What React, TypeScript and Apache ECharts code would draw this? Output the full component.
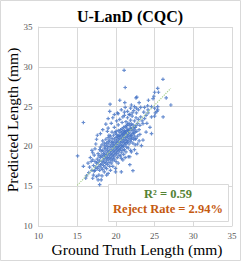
import { useEffect, useRef } from "react";
import * as echarts from "echarts";

const chartTitle = "U-LanD (CQC)";
const xAxisTitle = "Ground Truth Length (mm)";
const yAxisTitle = "Predicted Length (mm)";
const axisMin = 10;
const axisMax = 35;
const axisStep = 5;
const r2Label = "R² = 0.59";
const rejectLabel = "Reject Rate = 2.94%";

// [ground truth length, predicted length] in mm
const sparsePoints: [number, number][] = [
  [21.06, 29.56], [26.08, 28.43], [21.2, 27.4], [25.4, 27.3], [25.5, 26.8], [25.0, 26.8], [24.9, 26.3],
  [26.5, 26.1], [22.7, 26.2], [22.6, 26.1], [20.5, 25.8], [24.8, 26.0], [24.2, 25.8], [21.15, 25.5],
  [27.1, 25.2], [19.25, 25.3], [22.0, 25.2], [22.4, 25.0], [23.0, 25.5], [23.2, 24.9], [23.7, 24.9],
  [24.1, 25.1], [24.6, 25.0], [25.4, 25.0], [21.2, 24.9], [21.9, 24.8], [22.65, 24.8], [22.9, 24.6],
  [24.15, 24.6], [25.0, 24.8], [25.4, 24.6], [20.2, 24.2], [21.7, 24.0], [22.1, 24.2], [22.65, 24.2],
  [23.6, 24.3], [24.15, 24.2], [25.1, 24.2], [25.3, 24.4], [15.8, 23.0], [19.0, 22.3], [20.3, 24.1],
  [21.1, 23.9], [21.8, 24.0], [23.9, 23.9], [24.6, 23.7], [25.0, 23.8], [26.1, 23.7], [23.1, 22.65],
  [23.5, 22.85], [24.4, 22.4], [23.9, 21.8], [24.6, 21.6], [23.5, 20.8], [23.3, 20.1], [15.05, 18.8],
  [15.8, 17.5], [16.4, 17.9], [16.8, 18.1], [17.3, 17.0], [17.1, 16.4], [17.5, 16.2], [17.8, 16.4],
  [17.9, 15.2], [17.7, 15.8], [18.1, 15.8], [18.8, 16.4], [19.0, 16.6], [19.95, 17.25], [19.95, 16.8],
  [20.7, 16.8], [21.8, 17.7], [22.2, 16.95], [21.6, 18.7], [21.8, 18.7], [20.7, 18.5],
];

const upperCorePoints: [number, number][] = [
  [18.7, 22.8], [20.1, 23.2], [19.0, 23.5], [19.4, 22.9], [19.6, 23.6], [19.8, 22.4], [20.0, 21.9],
  [20.3, 22.7], [20.5, 23.4], [20.6, 22.1], [20.8, 23.0], [20.9, 23.7], [21.0, 22.4], [21.2, 21.8],
  [21.3, 23.1], [21.4, 22.6], [21.5, 23.6], [21.6, 22.0], [21.7, 22.9], [21.9, 23.3], [22.0, 22.2],
  [22.1, 23.8], [22.2, 22.7], [22.3, 21.7], [22.4, 23.2], [22.5, 22.4], [22.6, 23.6], [22.7, 21.9],
  [22.8, 22.9], [22.9, 23.4], [23.0, 22.1], [23.2, 23.7], [22.3, 24.5], [21.5, 24.4], [20.7, 24.6],
  [19.8, 24.0], [19.2, 24.4], [23.4, 23.2], [22.8, 21.3], [21.9, 21.4], [20.9, 21.5], [19.5, 21.8],
  [19.1, 21.4], [18.9, 21.9], [20.4, 21.3], [23.7, 23.5], [24.0, 22.9], [22.5, 20.9], [23.1, 21.5],
  [21.1, 24.3],
];

const corePoints: [number, number][] = [
  [17.5, 17.9], [17.6, 18.4], [17.6, 17.2], [17.7, 19.1], [17.7, 18.0], [17.8, 17.5], [17.8, 18.8],
  [17.9, 19.6], [17.9, 18.2], [17.9, 17.0], [18.0, 18.6], [18.0, 19.9], [18.0, 17.7],
  [18.1, 18.9], [18.1, 17.3], [18.1, 19.4], [18.2, 18.1], [18.2, 20.2], [18.2, 17.8], [18.3, 18.7],
  [18.3, 19.5], [18.3, 17.1], [18.3, 20.7], [18.4, 18.3], [18.4, 19.1], [18.4, 17.6], [18.5, 18.9],
  [18.5, 19.8], [18.5, 18.0], [18.5, 20.4],
  [18.6, 18.5], [18.6, 19.3], [18.6, 17.4], [18.6, 20.1], [18.7, 18.8], [18.7, 19.7], [18.7, 17.9],
  [18.7, 20.9], [18.8, 18.2], [18.8, 19.0], [18.8, 20.4], [18.8, 17.2], [18.9, 18.6], [18.9, 19.5],
  [18.9, 20.0], [18.9, 17.7], [19.0, 19.2], [19.0, 18.4], [19.0, 20.6], [19.0, 21.1],
  [19.1, 18.9], [19.1, 19.8], [19.1, 18.0], [19.1, 20.3], [19.2, 19.4], [19.2, 18.6], [19.2, 20.8],
  [19.2, 17.5], [19.3, 19.1], [19.3, 20.0], [19.3, 18.3], [19.3, 21.3], [19.4, 19.6], [19.4, 18.8],
  [19.4, 20.5], [19.4, 17.9], [19.5, 19.3], [19.5, 20.2], [19.5, 18.5], [19.5, 21.0],
  [19.6, 19.9], [19.6, 19.0], [19.6, 20.6], [19.6, 18.2], [19.7, 19.5], [19.7, 20.3], [19.7, 18.7],
  [19.7, 21.4], [19.8, 19.2], [19.8, 20.0], [19.8, 18.4], [19.8, 20.9], [19.9, 19.7], [19.9, 20.5],
  [19.9, 18.9], [19.9, 21.7], [20.0, 19.4], [20.0, 20.2], [20.0, 18.1], [20.0, 21.1],
  [20.1, 19.9], [20.1, 20.7], [20.1, 19.1], [20.1, 21.5], [20.2, 20.4], [20.2, 19.6], [20.2, 18.6],
  [20.2, 21.2], [20.3, 20.0], [20.3, 20.9], [20.3, 19.3], [20.3, 22.0], [20.4, 20.6], [20.4, 19.8],
  [20.4, 18.9], [20.4, 21.4], [20.5, 20.2], [20.5, 21.0], [20.5, 19.5], [20.5, 21.8],
  [20.6, 20.5], [20.6, 21.3], [20.6, 19.7], [20.6, 18.8], [20.7, 20.9], [20.7, 20.1], [20.7, 21.7],
  [20.7, 19.2], [20.8, 20.6], [20.8, 21.4], [20.8, 19.9], [20.8, 22.2], [20.9, 20.3], [20.9, 21.1],
  [20.9, 19.5], [20.9, 21.9], [21.0, 20.8], [21.0, 21.6], [21.0, 20.0], [21.0, 19.0],
  [21.1, 20.5], [21.1, 21.3], [21.1, 22.0], [21.1, 19.6], [21.2, 20.9], [21.2, 21.7], [21.2, 20.2],
  [21.2, 22.5], [21.3, 21.1], [21.3, 20.4], [21.3, 21.9], [21.3, 19.3], [21.4, 20.7], [21.4, 21.5],
  [21.4, 22.3], [21.4, 19.9], [21.5, 21.2], [21.5, 20.5], [21.5, 22.0], [21.5, 22.8],
  [21.6, 20.8], [21.6, 21.6], [21.6, 19.8], [21.7, 21.3], [21.7, 22.1], [21.7, 20.3], [21.8, 21.0],
  [21.8, 21.8], [21.8, 22.6], [21.9, 20.6], [21.9, 22.3], [21.9, 19.5], [22.0, 21.4], [22.0, 20.9],
  [22.0, 22.8], [22.1, 21.1], [22.1, 22.0], [22.2, 20.4], [22.2, 21.6], [22.3, 22.4], [22.3, 20.9],
  [22.4, 21.3], [22.4, 22.1], [22.5, 21.8], [22.5, 20.2], [22.6, 22.6], [22.6, 21.0],
];

const lowerFringePoints: [number, number][] = [
  [16.6, 17.4], [16.7, 18.6], [16.9, 17.0], [17.0, 18.3], [17.0, 19.2], [17.1, 17.6], [17.2, 18.9],
  [17.3, 18.1], [17.3, 19.7], [17.4, 17.4], [17.4, 20.3], [17.2, 16.9], [16.9, 19.5], [17.5, 20.9],
  [17.6, 21.4], [18.0, 21.6], [18.3, 22.1], [17.0, 16.0], [16.5, 16.7], [16.2, 16.3], [18.5, 16.8],
  [18.2, 16.3], [19.3, 17.0], [19.6, 17.5], [20.3, 17.9], [20.9, 18.3], [21.2, 18.6], [22.0, 19.3],
  [22.4, 19.6], [22.8, 20.3], [23.0, 20.7], [22.7, 19.1], [16.1, 16.0],
];

const trendLine: [number, number][] = [
  [15.0, 15.1],
  [27.1, 27.3],
];

const SERIF = "Liberation Serif";

export default function App() {
  const ref = useRef<HTMLDivElement>(null);
  useEffect(() => {
    document.body.style.margin = "0";
    if (!ref.current) return;
    const chart = echarts.init(ref.current, undefined, { renderer: "svg" });
    const allPoints = [...corePoints, ...upperCorePoints, ...lowerFringePoints, ...sparsePoints];
    const gridColor = "#D9D9D9";
    const tickLabel = { color: "#595959", fontFamily: SERIF, fontSize: 9 };
    chart.setOption({
      animation: false,
      backgroundColor: "#fff",
      textStyle: { fontFamily: SERIF },
      grid: { left: 38.5, top: 27, width: 193.5, height: 199, containLabel: false },
      xAxis: {
        type: "value",
        min: axisMin,
        max: axisMax,
        interval: axisStep,
        axisLine: { show: true, lineStyle: { color: gridColor } },
        axisTick: { show: false },
        splitLine: { show: true, lineStyle: { color: gridColor, width: 1 } },
        axisLabel: { ...tickLabel, margin: 5 },
      },
      yAxis: {
        type: "value",
        min: axisMin,
        max: axisMax,
        interval: axisStep,
        axisLine: { show: true, lineStyle: { color: gridColor } },
        axisTick: { show: false },
        splitLine: { show: true, lineStyle: { color: gridColor, width: 1 } },
        axisLabel: { ...tickLabel, margin: 6 },
      },
      series: [
        {
          type: "scatter",
          data: allPoints,
          symbol: "path://M1 0H2V1H3V2H2V3H1V2H0V1H1Z",
          symbolSize: 3.6,
          itemStyle: { color: "#4472C4" },
          z: 2,
        },
        {
          type: "line",
          data: trendLine,
          symbol: "none",
          lineStyle: { color: "#A9D18E", width: 1.2, type: "dotted" },
          z: 3,
        },
      ],
      graphic: [
        {
          type: "rect",
          shape: { x: 0.5, y: 0.5, width: 240, height: 260 },
          style: { fill: "none", stroke: gridColor, lineWidth: 1 },
          silent: true,
        },
        {
          type: "text",
          x: 130,
          y: 16,
          style: {
            text: chartTitle,
            fontFamily: SERIF,
            fontWeight: "bold",
            fontSize: 16,
            fill: "#000",
            textAlign: "center",
            textVerticalAlign: "middle",
          },
        },
        {
          type: "text",
          x: 12,
          y: 120,
          rotation: Math.PI / 2,
          style: {
            text: yAxisTitle,
            fontFamily: SERIF,
            fontSize: 15.5,
            fill: "#000",
            textAlign: "center",
            textVerticalAlign: "middle",
          },
        },
        {
          type: "text",
          x: 137,
          y: 249.5,
          style: {
            text: xAxisTitle,
            fontFamily: SERIF,
            fontSize: 15.5,
            fill: "#000",
            textAlign: "center",
            textVerticalAlign: "middle",
          },
        },
        {
          type: "rect",
          z: 10,
          shape: { x: 108.5, y: 184.5, width: 120, height: 37 },
          style: { fill: "#fff", stroke: gridColor, lineWidth: 1 },
        },
        {
          type: "text",
          z: 11,
          x: 168,
          y: 194,
          style: {
            text: r2Label,
            fontFamily: SERIF,
            fontWeight: "bold",
            fontSize: 12.5,
            fill: "#548235",
            textAlign: "center",
            textVerticalAlign: "middle",
          },
        },
        {
          type: "text",
          z: 11,
          x: 168,
          y: 209,
          style: {
            text: rejectLabel,
            fontFamily: SERIF,
            fontWeight: "bold",
            fontSize: 12.5,
            fill: "#C55A11",
            textAlign: "center",
            textVerticalAlign: "middle",
          },
        },
      ],
    });
    return () => chart.dispose();
  }, []);
  return <div ref={ref} style={{ width: 241, height: 261 }} />;
}
